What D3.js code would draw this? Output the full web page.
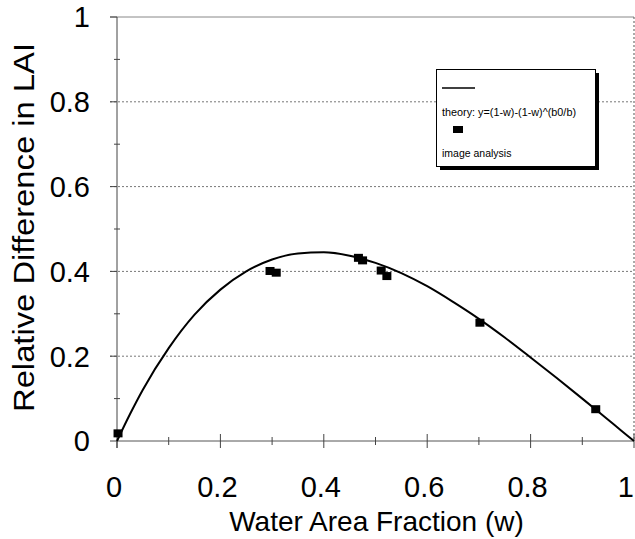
<!DOCTYPE html>
<html>
<head>
<meta charset="utf-8">
<script src="https://cdn.jsdelivr.net/npm/d3@7"></script>
<style>
  body { margin: 0; background: #fff; }
  text { font-family: "Liberation Sans", Arial, sans-serif; fill: #000; }
</style>
</head>
<body>
<svg id="chart"></svg>
<script>
const majorTicks = [0, 0.2, 0.4, 0.6, 0.8, 1];
const minorTicks = [0.1, 0.3, 0.5, 0.7, 0.9];
const gridValues = [0.2, 0.4, 0.6, 0.8];

// theory curve
const theoryW = [0, 0.025, 0.05, 0.1, 0.15, 0.2, 0.25, 0.3, 0.35, 0.4, 0.45, 0.5,
                 0.55, 0.6, 0.65, 0.7, 0.75, 0.8, 0.85, 0.9, 0.95, 0.975, 1];
const theoryY = [0, 0.063, 0.121, 0.219, 0.298, 0.357, 0.400, 0.428, 0.442, 0.445, 0.437, 0.420,
                 0.396, 0.365, 0.328, 0.288, 0.244, 0.197, 0.149, 0.100, 0.050, 0.025, 0];

// image analysis points
const imageW = [0.002, 0.296, 0.308, 0.467, 0.475, 0.511, 0.522, 0.702, 0.926];
const imageY = [0.018, 0.401, 0.397, 0.432, 0.426, 0.402, 0.389, 0.279, 0.075];

const legendLabels = ['theory: y=(1-w)-(1-w)^(b0/b)', 'image analysis'];

const W = 635, H = 539;
const margin = {top: 17, right: 1, bottom: 98, left: 117};
const width = W - margin.left - margin.right,
      height = H - margin.top - margin.bottom;

const svg = d3.select('#chart')
    .attr('width', W)
    .attr('height', H);

const g = svg.append('g')
    .attr('transform', `translate(${margin.left},${margin.top})`);

const x = d3.scaleLinear().domain([0, 1]).range([0, width]);
const y = d3.scaleLinear().domain([0, 1]).range([height, 0]);

// dotted grid lines
g.selectAll('line.grid')
    .data(gridValues)
    .join('line')
    .attr('class', 'grid')
    .attr('x1', -7).attr('x2', width)
    .attr('y1', d => y(d)).attr('y2', d => y(d))
    .attr('stroke', '#777')
    .attr('stroke-width', 1)
    .attr('stroke-dasharray', '2,2');

// top border
g.append('line')
    .attr('x1', -7).attr('x2', width)
    .attr('y1', y(1)).attr('y2', y(1))
    .attr('stroke', '#888');

// right border
g.append('line')
    .attr('x1', x(1)).attr('x2', x(1))
    .attr('y1', 0).attr('y2', height)
    .attr('stroke', '#555')
    .attr('stroke-dasharray', '2,2');

// left axis
const yAxis = g.append('g');
yAxis.append('line')
    .attr('x1', 0).attr('x2', 0)
    .attr('y1', 0).attr('y2', height + 7)
    .attr('stroke', '#444');
yAxis.selectAll('line.minor')
    .data(minorTicks)
    .join('line')
    .attr('class', 'minor')
    .attr('x1', -3).attr('x2', 3)
    .attr('y1', d => y(d)).attr('y2', d => y(d))
    .attr('stroke', '#444');
yAxis.selectAll('line.major')
    .data(majorTicks)
    .join('line')
    .attr('class', 'major')
    .attr('x1', -7).attr('x2', 0)
    .attr('y1', d => y(d)).attr('y2', d => y(d))
    .attr('stroke', '#444');
yAxis.selectAll('text')
    .data(majorTicks)
    .join('text')
    .attr('x', -27)
    .attr('y', d => y(d))
    .attr('dy', '0.36em')
    .attr('text-anchor', 'end')
    .style('font-size', '29px')
    .text(d => d3.format('~g')(d));

// bottom axis
const xAxis = g.append('g').attr('transform', `translate(0,${height})`);
xAxis.append('line')
    .attr('x1', 0).attr('x2', width)
    .attr('stroke', '#555');
xAxis.selectAll('line.minor')
    .data(minorTicks)
    .join('line')
    .attr('class', 'minor')
    .attr('x1', d => x(d)).attr('x2', d => x(d))
    .attr('y1', -4).attr('y2', 4)
    .attr('stroke', '#444');
xAxis.selectAll('line.major')
    .data(majorTicks)
    .join('line')
    .attr('class', 'major')
    .attr('x1', d => x(d)).attr('x2', d => x(d))
    .attr('y1', d => d === 0 ? 0 : -7).attr('y2', 7)
    .attr('stroke', '#444');
xAxis.selectAll('text')
    .data(majorTicks)
    .join('text')
    .attr('x', d => d === 1 ? width : x(d) - 3)
    .attr('y', 56)
    .attr('text-anchor', d => d === 1 ? 'end' : 'middle')
    .style('font-size', '29px')
    .text(d => d3.format('~g')(d));

// axis titles
svg.append('text')
    .attr('x', margin.left + width / 2 + 1)
    .attr('y', 531)
    .attr('text-anchor', 'middle')
    .style('font-size', '28px')
    .text('Water Area Fraction (w)');

svg.append('text')
    .attr('transform', `translate(34,${227.5}) rotate(-90)`)
    .attr('text-anchor', 'middle')
    .attr('textLength', 369)
    .attr('lengthAdjust', 'spacingAndGlyphs')
    .style('font-size', '29px')
    .text('Relative Difference in LAI');

// theory curve
const theory = theoryW.map((w, i) => ({w, v: theoryY[i]}));
const line = d3.line()
    .x(d => x(d.w))
    .y(d => y(d.v))
    .curve(d3.curveMonotoneX);
g.append('path')
    .datum(theory)
    .attr('d', line)
    .attr('fill', 'none')
    .attr('stroke', '#000')
    .attr('stroke-width', 2);

// image analysis squares
const points = imageW.map((w, i) => ({w, v: imageY[i]}));
g.selectAll('rect.pt')
    .data(points)
    .join('rect')
    .attr('class', 'pt')
    .attr('x', d => x(d.w) - 4.5)
    .attr('y', d => y(d.v) - 4)
    .attr('width', 9)
    .attr('height', 8)
    .attr('fill', '#000');

// legend
const legend = svg.append('g').attr('transform', 'translate(436,69)');
legend.append('rect')
    .attr('x', 4).attr('y', 4)
    .attr('width', 159).attr('height', 97)
    .attr('fill', '#000');
legend.append('rect')
    .attr('x', 0.5).attr('y', 0.5)
    .attr('width', 159).attr('height', 97)
    .attr('fill', '#fff')
    .attr('stroke', '#000');
legend.append('line')
    .attr('x1', 6).attr('x2', 39)
    .attr('y1', 19).attr('y2', 19)
    .attr('stroke', '#000')
    .attr('stroke-width', 1.5);
legend.append('text')
    .attr('x', 6).attr('y', 47)
    .attr('textLength', 134)
    .attr('lengthAdjust', 'spacingAndGlyphs')
    .style('font-size', '10.5px')
    .text(legendLabels[0]);
legend.append('rect')
    .attr('x', 17).attr('y', 57)
    .attr('width', 10).attr('height', 7)
    .attr('fill', '#000');
legend.append('text')
    .attr('x', 6).attr('y', 88)
    .style('font-size', '10.5px')
    .text(legendLabels[1]);
</script>
</body>
</html>
